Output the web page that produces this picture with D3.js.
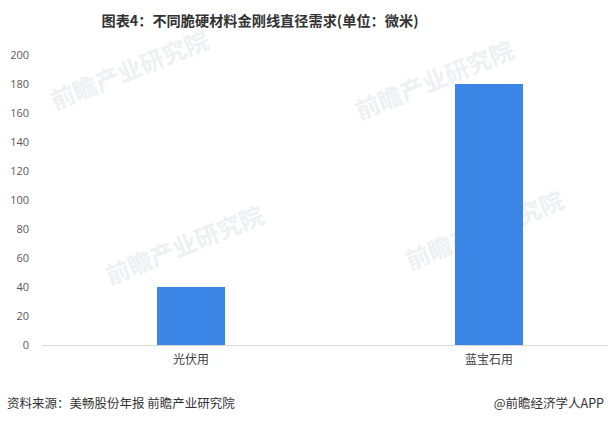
<!DOCTYPE html>
<html><head><meta charset="utf-8">
<script src="https://cdn.jsdelivr.net/npm/d3@7/dist/d3.min.js"></script>
<style>body{margin:0;background:#fff}svg{display:block}</style>
</head><body>
<script>
const categories = ["光伏用", "蓝宝石用"];
const values = [40, 180];
const yTicks = [0, 20, 40, 60, 80, 100, 120, 140, 160, 180, 200];
const titleText = "图表4：不同脆硬材料金刚线直径需求(单位：微米)";
const sourceText = "资料来源：美畅股份年报 前瞻产业研究院";
const brandText = "@前瞻经济学人APP";

const W = 608, H = 424;
const font = "'Noto Sans CJK SC', 'Microsoft YaHei', sans-serif";
const svg = d3.select("body").append("svg").attr("width", W).attr("height", H);

// faint watermarks
const wm = [[55,110],[360,120],[110,285],[410,270]];
wm.forEach(([x,y]) => {
  svg.append("text").attr("x", x).attr("y", y)
    .attr("transform", `rotate(-22,${x},${y})`)
    .attr("font-family", font).attr("font-size", 24).attr("font-weight", "bold")
    .attr("fill", "#eef0f3").text("前瞻产业研究院");
});

const x = d3.scaleBand().domain(categories).range([42, 638]).paddingInner(0.77).paddingOuter(0.385);
const y = d3.scaleLinear().domain([0, 200]).range([345, 55]);

// title
svg.append("text").attr("x", 260).attr("y", 26).attr("text-anchor", "middle")
  .attr("font-family", font).attr("font-size", 14.2).attr("font-weight", "bold")
  .attr("fill", "#333").text(titleText);

// y axis labels
const yAxis = d3.axisLeft(y).tickValues(yTicks).tickSize(0).tickPadding(0);
const gy = svg.append("g").attr("transform", "translate(29,0)").call(yAxis);
gy.select(".domain").remove();
gy.selectAll("text").attr("font-family", "'Open Sans', sans-serif").attr("font-size", 11).attr("fill", "#595959");

// bars
svg.append("g").selectAll("rect").data(categories).join("rect")
  .attr("x", d => x(d) + (x.bandwidth() - 68) / 2)
  .attr("width", 68)
  .attr("y", (d, i) => y(values[i]))
  .attr("height", (d, i) => y(0) - y(values[i]))
  .attr("fill", "#3a85e6");

// x axis
const xAxis = d3.axisBottom(x).tickSize(0).tickPadding(10);
const gx = svg.append("g").attr("transform", "translate(0,345)").call(xAxis);
gx.select(".domain").remove();
svg.append("line").attr("x1", 42).attr("x2", 608).attr("y1", 345.5).attr("y2", 345.5)
  .attr("stroke", "#d9d9d9").attr("stroke-width", 1);
gx.selectAll("text").attr("font-family", font).attr("font-size", 12).attr("fill", "#404040");

// footer
svg.append("text").attr("x", 7).attr("y", 408).attr("font-family", font).attr("font-size", 12.5)
  .attr("fill", "#333").text(sourceText);
svg.append("text").attr("x", 604).attr("y", 408).attr("text-anchor", "end").attr("font-family", font).attr("font-size", 12.5)
  .attr("fill", "#333").text(brandText);
</script>
</body></html>
